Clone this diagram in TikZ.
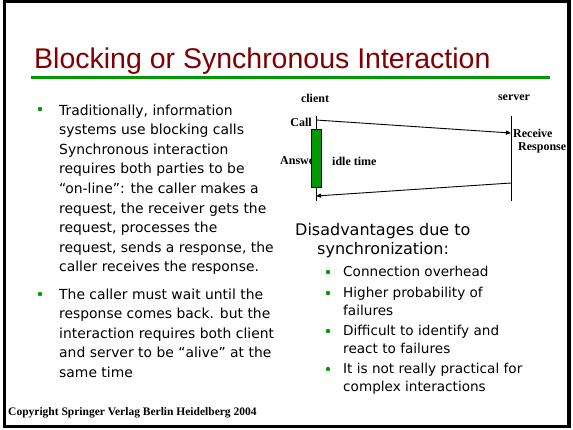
\documentclass[tikz,border=0pt]{standalone}
\usepackage{fontspec}
\setmainfont{DejaVu Sans}
\newfontfamily\titlefont{Liberation Sans}
\newfontfamily\labelfont{Liberation Serif}
\usetikzlibrary{arrows.meta}
\definecolor{slidered}{RGB}{128,0,0}
\definecolor{slidegreen}{RGB}{0,153,0}

\begin{document}
\begin{tikzpicture}[x=1pt,y=-1pt]
\tikzstyle{every node}+=[inner sep=0pt]
\tikzstyle{bullet}=[circle,fill=slidegreen,minimum size=4.4pt]
\tikzstyle{body}=[anchor=base west,align=left,font=\fontsize{13.9}{19.6}\selectfont]
\tikzstyle{sub}=[anchor=base west,align=left,font=\fontsize{13.6}{18}\selectfont]
\tikzstyle{lbl}=[font=\labelfont\bfseries\fontsize{12}{14}\selectfont]
\tikzstyle{msg}=[line width=0.9pt,-{Triangle[length=5pt,width=4pt]}]
\useasboundingbox (0,0) rectangle (573,429);
\draw [black,line width=3.2pt] (4.3,1.7) rectangle (569,426.5);
\node [anchor=base west,text=slidered,font=\titlefont\fontsize{28.5}{30}\selectfont] (title) at (34,68) {Blocking or Synchronous Interaction};
\draw [slidegreen,line width=3pt] (31,77.5) -- (550,77.5);
\node [bullet] (dot1) at (40,109) {};
\node [body] (trad) at (59,271.8) {Traditionally, information\\systems use blocking calls\\Synchronous interaction\\requires both parties to be\\“on-line”: the caller makes a\\request, the receiver gets the\\request, processes the\\request, sends a response, the\\caller receives the response.};
\node [bullet] (dot2) at (40,294) {};
\node [body] (wait) at (59,377.4) {The caller must wait until the\\response comes back. but the\\interaction requires both client\\and server to be “alive” at the\\same time};
\node [lbl] (client) at (315,98) {client};
\node [lbl] (server) at (514,98) {server};
\coordinate (ctop) at (316,116);
\coordinate (cbot) at (316,201);
\coordinate (stop) at (511,116);
\coordinate (sbot) at (511,201);
\draw [line width=0.9pt] (ctop) -- (cbot);
\draw [line width=0.9pt] (stop) -- (sbot);
\node [lbl,anchor=east] (call) at (312,122) {Call};
\node [lbl,anchor=west] (answer) at (280,161) {Answer};
\node [draw,fill=slidegreen,line width=0.9pt,minimum width=10pt,minimum height=58pt] (busy) at (316,158) {};
\node [lbl,anchor=west] (idle) at (332,161) {idle time};
\node [lbl,anchor=west] (receive) at (513,133) {Receive};
\node [lbl,anchor=west] (response) at (518,148) {Response};
\coordinate (callout) at (316,120);
\coordinate (callin) at (511,133);
\coordinate (respout) at (511,183);
\coordinate (respin) at (316,196);
\draw [msg] (callout) -- (callin);
\draw [msg] (respout) -- (respin);
\node [anchor=base west,align=left,font=\fontsize{16}{19}\selectfont] (disadv) at (295,254) {Disadvantages due to\\\hspace*{22pt}synchronization:};
\node [bullet] (dot3) at (328,272) {};
\node [sub] (overhead) at (343,276) {Connection overhead};
\node [bullet] (dot4) at (328,293) {};
\node [sub] (prob) at (343,315) {Higher probability of\\failures};
\node [bullet] (dot5) at (328,331) {};
\node [sub] (react) at (343,353) {Difficult to identify and\\react to failures};
\node [bullet] (dot6) at (328,369) {};
\node [sub] (practical) at (343,391) {It is not really practical for\\complex interactions};
\node [anchor=base west,font=\labelfont\bfseries\fontsize{11.5}{13}\selectfont] (copy) at (8,415) {Copyright Springer Verlag Berlin Heidelberg 2004};
\end{tikzpicture}
\end{document}
